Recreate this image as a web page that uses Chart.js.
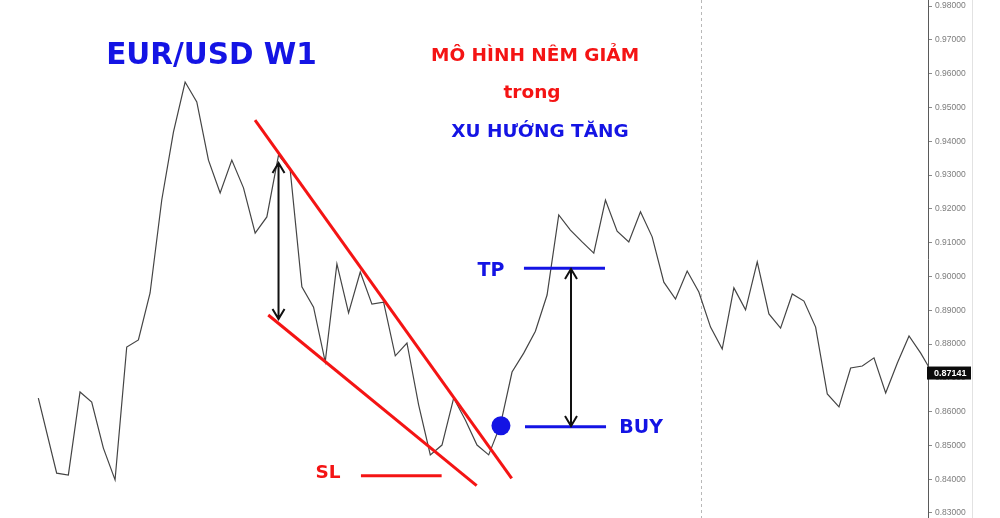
<!DOCTYPE html>
<html>
<head>
<meta charset="utf-8">
<script src="https://cdn.jsdelivr.net/npm/chart.js@4.4.1/dist/chart.umd.min.js"></script>
<style>
  html, body { margin: 0; padding: 0; background: #fff; }
  #wrap { width: 1000px; height: 518px; position: relative; }
</style>
</head>
<body>
<div id="wrap"><canvas id="chart"></canvas></div>
<script>
// EUR/USD weekly closes, one per bar
const closes = [
  0.8640, 0.8418, 0.8412, 0.8658, 0.8628, 0.8492, 0.8398, 0.8791, 0.8812, 0.8951,
  0.9226, 0.9427, 0.9575, 0.9516, 0.9344, 0.9247, 0.9344, 0.9262, 0.9128, 0.9176,
  0.9359, 0.9315, 0.8969, 0.8909, 0.8747, 0.9037, 0.8892, 0.9013, 0.8918, 0.8924,
  0.8765, 0.8803, 0.8620, 0.8472, 0.8501, 0.8640, 0.8575, 0.8501, 0.8472, 0.8560,
  0.8717, 0.8773, 0.8838, 0.8945, 0.9182, 0.9137, 0.9102, 0.9069, 0.9226, 0.9134,
  0.9102, 0.9191, 0.9117, 0.8983, 0.8933, 0.9016, 0.8954, 0.8850, 0.8785, 0.8966,
  0.8901, 0.9043, 0.8889, 0.8847, 0.8948, 0.8927, 0.8850, 0.8652, 0.8614, 0.8729,
  0.8735, 0.8759, 0.8655, 0.8744, 0.8824, 0.8773, 0.87141
];
// bar positions: the first visible close sits about 0.6 bar left of the regular grid
const bars = closes.map((v, i) => (i === 0 ? -0.57 : i));
const lastPrice = 0.87141;
const yTicks = [0.83, 0.84, 0.85, 0.86, 0.87, 0.88, 0.89, 0.90, 0.91, 0.92, 0.93, 0.94, 0.95, 0.96, 0.97, 0.98];

// drawn annotations, in bar index / price units
const upperWedge = [[17.99, 0.94627], [39.97, 0.84027]];
const lowerWedge = [[19.12, 0.88858], [36.97, 0.83808]];
const heightArrow = [[20.0, 0.93355], [20.0, 0.8874]];
const targetArrow = [[45.05, 0.9022], [45.05, 0.85574]];
const tpLine = [[41.02, 0.9024], [47.96, 0.9024]];
const buyLine = [[41.11, 0.85553], [48.05, 0.85553]];
const slLine = [[27.06, 0.84104], [33.97, 0.84104]];
const buyPoint = [39.05, 0.85583];
const sessionBreak = 56.16;

const BLUE = "#1414e4";
const RED = "#f41414";

const labels = [
  { text: "EUR/USD W1", at: [14.26, 0.96275], size: 29.5, color: BLUE },
  { text: "MÔ HÌNH NÊM GIẢM", at: [41.97, 0.96373], size: 18.5, color: RED },
  { text: "trong", at: [41.71, 0.95269], size: 18.5, color: RED },
  { text: "XU HƯỚNG TĂNG", at: [42.39, 0.94133], size: 18.5, color: BLUE },
  { text: "SL", at: [24.24, 0.84047], size: 18.5, color: RED },
  { text: "TP", at: [38.2, 0.90021], size: 19, color: BLUE },
  { text: "BUY", at: [51.05, 0.85367], size: 19, color: BLUE }
];

function px(chart, p) {
  return [chart.scales.x.getPixelForValue(p[0]), chart.scales.y.getPixelForValue(p[1])];
}

function segment(ctx, chart, seg, color, width) {
  const a = px(chart, seg[0]), b = px(chart, seg[1]);
  ctx.strokeStyle = color;
  ctx.lineWidth = width;
  ctx.beginPath();
  ctx.moveTo(a[0], a[1]);
  ctx.lineTo(b[0], b[1]);
  ctx.stroke();
}

function doubleArrow(ctx, chart, seg) {
  const a = px(chart, seg[0]), b = px(chart, seg[1]);
  ctx.strokeStyle = "#111";
  ctx.lineWidth = 2;
  ctx.beginPath();
  ctx.moveTo(a[0], a[1]);
  ctx.lineTo(b[0], b[1]);
  ctx.moveTo(a[0] - 6, a[1] + 10);
  ctx.lineTo(a[0], a[1]);
  ctx.lineTo(a[0] + 6, a[1] + 10);
  ctx.moveTo(b[0] - 6, b[1] - 10);
  ctx.lineTo(b[0], b[1]);
  ctx.lineTo(b[0] + 6, b[1] - 10);
  ctx.stroke();
}

const backdrop = {
  id: "backdrop",
  beforeDatasetsDraw(chart) {
    const ctx = chart.ctx;
    const x = chart.scales.x.getPixelForValue(sessionBreak);
    ctx.save();
    ctx.strokeStyle = "#b8b8b8";
    ctx.lineWidth = 1;
    ctx.setLineDash([3, 3]);
    ctx.beginPath();
    ctx.moveTo(Math.round(x) + 0.5, 0);
    ctx.lineTo(Math.round(x) + 0.5, chart.height);
    ctx.stroke();
    ctx.restore();
  }
};

const markup = {
  id: "markup",
  afterDatasetsDraw(chart) {
    const ctx = chart.ctx;
    ctx.save();
    ctx.lineCap = "butt";
    segment(ctx, chart, upperWedge, RED, 3);
    segment(ctx, chart, lowerWedge, RED, 3);
    segment(ctx, chart, slLine, RED, 3);
    segment(ctx, chart, tpLine, BLUE, 3);
    segment(ctx, chart, buyLine, BLUE, 3);
    doubleArrow(ctx, chart, heightArrow);
    doubleArrow(ctx, chart, targetArrow);

    const d = px(chart, buyPoint);
    ctx.fillStyle = BLUE;
    ctx.beginPath();
    ctx.arc(d[0], d[1], 9.5, 0, Math.PI * 2);
    ctx.fill();

    ctx.textAlign = "center";
    ctx.textBaseline = "alphabetic";
    labels.forEach(l => {
      const p = px(chart, l.at);
      ctx.font = `bold ${l.size}px "DejaVu Sans", Verdana, sans-serif`;
      ctx.fillStyle = l.color;
      ctx.fillText(l.text, p[0], p[1]);
    });

    // price scale panel edge + last price tag
    const ys = chart.scales.y;
    ctx.strokeStyle = "#e2e2e2";
    ctx.lineWidth = 1;
    ctx.beginPath();
    ctx.moveTo(ys.left + 44.5, 0);
    ctx.lineTo(ys.left + 44.5, chart.height);
    ctx.stroke();

    const ty = ys.getPixelForValue(lastPrice);
    ctx.fillStyle = "#0b0b0b";
    ctx.fillRect(ys.left - 1, ty - 6.5, 44, 13);
    ctx.fillStyle = "#fff";
    ctx.font = 'bold 9px "Liberation Sans", Arial, sans-serif';
    ctx.textAlign = "left";
    ctx.textBaseline = "middle";
    ctx.fillText(lastPrice.toFixed(5), ys.left + 6, ty + 0.5);
    ctx.restore();
  }
};

new Chart(document.getElementById("chart"), {
  type: "line",
  data: {
    datasets: [{
      data: closes.map((v, i) => ({ x: bars[i], y: v })),
      borderColor: "#444",
      borderWidth: 1.2,
      pointRadius: 0,
      tension: 0
    }]
  },
  options: {
    responsive: true,
    maintainAspectRatio: false,
    animation: false,
    layout: { padding: 0 },
    plugins: { legend: { display: false }, tooltip: { enabled: false } },
    scales: {
      x: { type: "linear", min: -3.854, max: 75.625, display: false },
      y: {
        position: "right",
        min: 0.82852,
        max: 0.98178,
        afterFit(scale) {
          scale.width = 72;
          scale.paddingTop = 0;
          scale.paddingBottom = 0;
        },
        afterBuildTicks(scale) {
          scale.ticks = yTicks.map(v => ({ value: v }));
        },
        border: { display: true, color: "#5a5a5a", width: 1 },
        grid: { drawOnChartArea: false, drawTicks: true, tickLength: 4, color: "#8a8a8a" },
        ticks: {
          padding: 3,
          color: "#7c7c7c",
          font: { family: "Liberation Sans", size: 8.5 },
          callback: v => Number(v).toFixed(5)
        }
      }
    }
  },
  plugins: [backdrop, markup]
});
</script>
</body>
</html>
